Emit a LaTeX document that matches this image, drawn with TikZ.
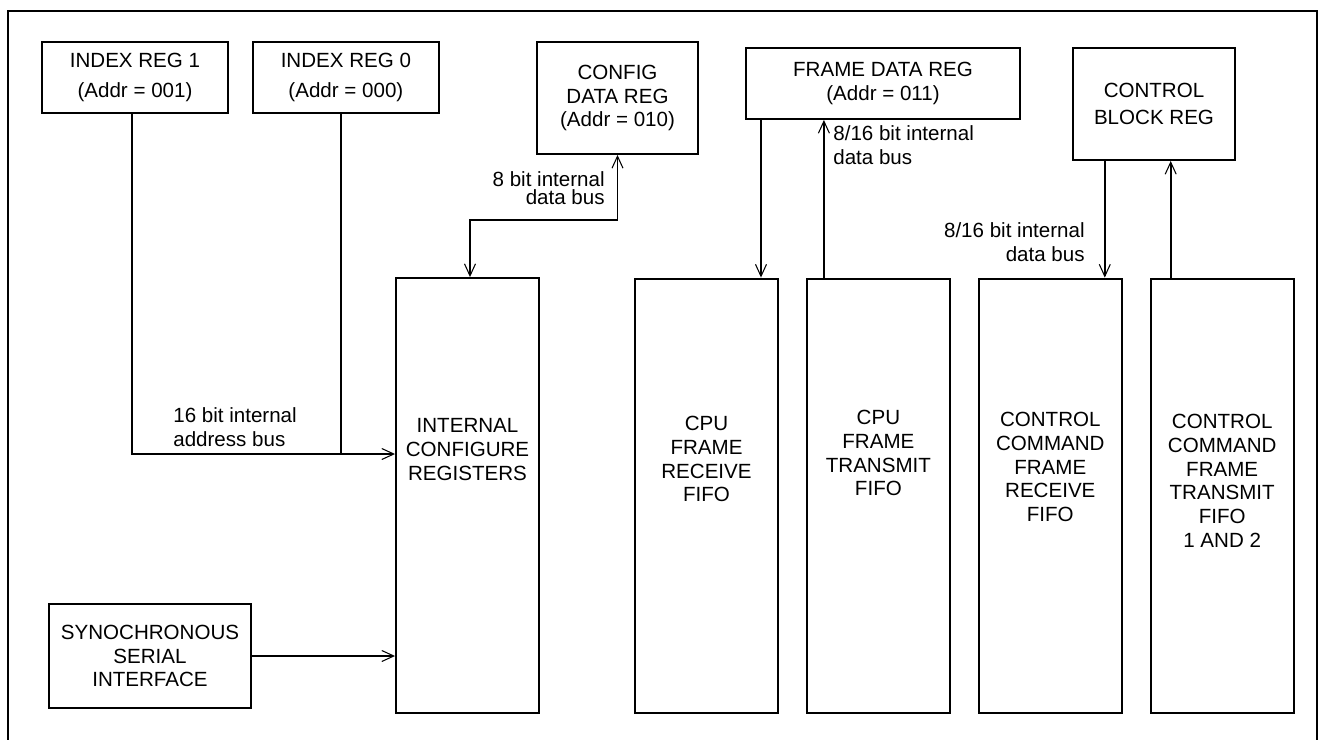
\documentclass[tikz,border=0pt]{standalone}
\usepackage{fontspec}
\setmainfont{Liberation Sans}
\usepackage{tikz}
\usetikzlibrary{positioning,calc}
\usetikzlibrary{arrows.meta}
\tikzset{>={Straight Barb[length=2.4mm,width=2.2mm,line width=0.6pt]}}
\tikzset{
	reg/.style={draw,line width=1.1pt,align=center,inner sep=0pt,anchor=center,rectangle},
	idxreg/.style={reg,minimum width=3.72cm,minimum height=1.42cm,font=\fontsize{11.7}{17}\selectfont},
	fifo/.style={draw,line width=1.1pt,minimum width=2.86cm,minimum height=8.7cm,inner sep=0pt,rectangle},
	fifotext/.style={align=center,inner sep=0pt},
	buslabel/.style={align=left,inner sep=0pt},
	bus/.style={
		draw,line width=1.1pt,
	},
}

\begin{document}
\begin{tikzpicture}[x=0.02cm,y=-0.02cm,font=\fontsize{11.7}{13.6}\selectfont]
	\useasboundingbox (0,0) rectangle (1323,740);
	
	% Outer frame
	\draw[line width=1.1pt] (8,760) |- (1317,11) -- (1317,760);
	
	% Index registers
	\node[idxreg] (ir1) at (135,77.5) {INDEX REG 1\\(Addr = 001)};
	\node[idxreg,right=0.46cm of ir1] (ir0) {INDEX REG 0\\(Addr = 000)};
	
	% Data registers
	\node[reg,minimum width=3.22cm,minimum height=2.24cm] (cfg) at (617.5,98) {CONFIG\\DATA REG\\(Addr = 010)};
	\node[reg,minimum width=5.48cm,minimum height=1.42cm] (fdr) at (883,83.5) {FRAME DATA REG\\(Addr = 011)};
	\node[reg,minimum width=3.24cm,minimum height=2.24cm,font=\fontsize{11.7}{15.3}\selectfont] (cbr) at (1154,104) {CONTROL\\BLOCK REG};
	
	% Serial interface
	\node[reg,minimum width=4.04cm,minimum height=2.08cm] (ssi) at (150,656) {SYNOCHRONOUS\\SERIAL\\INTERFACE};
	
	% Configure registers and FIFOs
	\node[fifo,label={[fifotext,below=2.82cm]north:INTERNAL\\CONFIGURE\\REGISTERS}] (icr) at (467.5,495.5) {};
	\node[fifo,label={[fifotext,below=2.76cm]north:CPU\\FRAME\\RECEIVE\\FIFO}] (cfr) at (706.5,496) {};
	\node[fifo,right=0.54cm of cfr,label={[fifotext,below=2.64cm]north:CPU\\FRAME\\TRANSMIT\\FIFO}] (cft) {};
	\node[fifo,right=0.54cm of cft,label={[fifotext,below=2.68cm]north:CONTROL\\COMMAND\\FRAME\\RECEIVE\\FIFO}] (ccfr) {};
	\node[fifo,right=0.54cm of ccfr,label={[fifotext,below=2.72cm]north:CONTROL\\COMMAND\\FRAME\\TRANSMIT\\FIFO\\1 AND 2}] (ccft) {};
	
	% Bus points
	\coordinate (abus) at ([yshift=0.83cm]icr.west);
	\coordinate (cbus) at ([yshift=-1.3cm]cfg.south);
	\coordinate (fdrin) at ([xshift=1.09cm]cfr.north);
	\coordinate (fdrout) at ([xshift=-1.09cm]cft.north);
	\coordinate (cbrin) at ([xshift=1.09cm]ccfr.north);
	\coordinate (cbrout) at ([xshift=-1.03cm]ccft.north);
	
	% Draw connections
	\draw[bus,->] ([xshift=-0.06cm]ir1.south) |- (abus);
	\draw[bus] ([xshift=-0.1cm]ir0.south) -- ([xshift=-0.1cm]ir0.south |- abus);
	\draw[bus,->] (ssi.east) -- (ssi.east -| icr.west);
	\draw[bus,<->] ([xshift=0.05cm]icr.north) |- (cbus) -- (cfg.south);
	\draw[bus,->] (fdrin |- fdr.south) -- (fdrin);
	\draw[bus,->] (fdrout) -- (fdrout |- fdr.south);
	\draw[bus,->] (cbrin |- cbr.south) -- (cbrin);
	\draw[bus,->] (cbrout) -- (cbrout |- cbr.south);
	
	% Bus labels
	\node[buslabel,anchor=south west] (abuslbl) at (173,447) {16 bit internal\\address bus};
	\node[buslabel,align=right,anchor=south east,font=\fontsize{11.7}{10.2}\selectfont] (cbuslbl) at (605,205) {8 bit internal\\data bus};
	\node[buslabel,anchor=south west] (fbuslbl) at (833,165) {8/16 bit internal\\data bus};
	\node[buslabel,align=right,anchor=south east] (kbuslbl) at (1085,262) {8/16 bit internal\\data bus};
	
\end{tikzpicture}
\end{document}
